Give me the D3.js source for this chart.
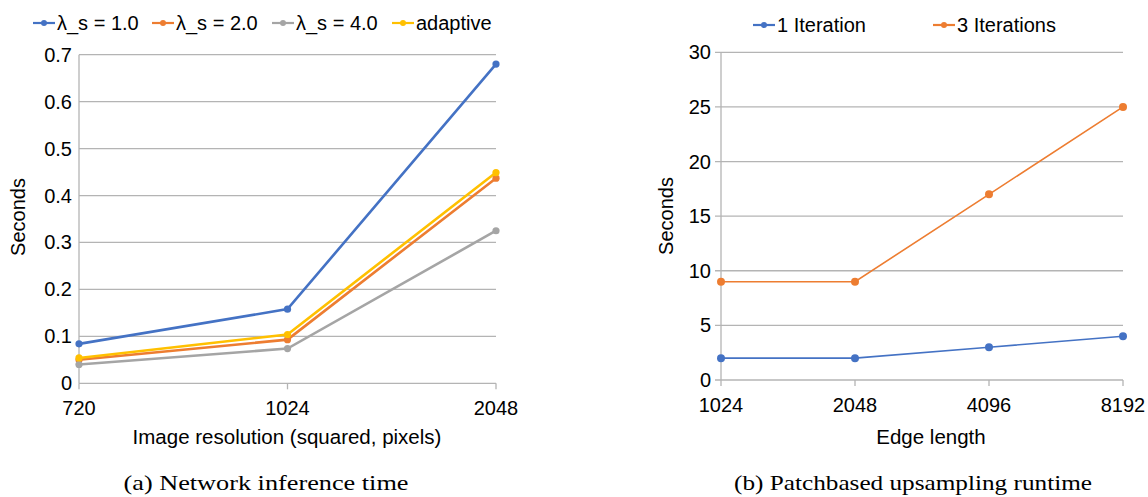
<!DOCTYPE html>
<html>
<head>
<meta charset="utf-8">
<script src="https://cdn.jsdelivr.net/npm/d3@7"></script>
<style>
  body { margin: 0; background: #fff; }
  svg { display: block; }
  .tick-label, .legend-label, .axis-title { font-family: "Liberation Sans", Arial, sans-serif; fill: #000; }
  .caption { font-family: "Liberation Serif", "DejaVu Serif", serif; fill: #000; }
</style>
</head>
<body>
<div class="chart"></div>
<script>
// --- data: (a) network inference time ---
const resolutions = ["720", "1024", "2048"];
const lambda1 = [0.084, 0.158, 0.680];
const lambda2 = [0.050, 0.093, 0.437];
const lambda4 = [0.040, 0.074, 0.325];
const adaptive = [0.054, 0.104, 0.449];
const secondsTicksA = [0, 0.1, 0.2, 0.3, 0.4, 0.5, 0.6, 0.7];

// --- data: (b) patchbased upsampling runtime ---
const edgeLengths = ["1024", "2048", "4096", "8192"];
const iter1 = [2, 2, 3, 4];
const iter3 = [9, 9, 17, 25];
const secondsTicksB = [0, 5, 10, 15, 20, 25, 30];

const seriesA = [
  { name: "λ_s = 1.0", values: lambda1, color: "#4472C4" },
  { name: "λ_s = 2.0", values: lambda2, color: "#ED7D31" },
  { name: "λ_s = 4.0", values: lambda4, color: "#A5A5A5" },
  { name: "adaptive", values: adaptive, color: "#FFC000" }
];
const seriesB = [
  { name: "1 Iteration", values: iter1, color: "#4472C4" },
  { name: "3 Iterations", values: iter3, color: "#ED7D31" }
];

const svg = d3.select(".chart").append("svg")
  .attr("width", 1148)
  .attr("height", 497);

const gridColor = "#B4B4B4";

function drawPanel(opts) {
  const x = d3.scalePoint().domain(opts.categories).range([opts.left, opts.right]);
  const y = d3.scaleLinear().domain([0, d3.max(opts.yTicks)]).range([opts.bottom, opts.top]);
  const g = svg.append("g");

  // gridlines
  g.selectAll(".grid").data(opts.yTicks).join("line")
    .attr("x1", opts.left - opts.yTickLen).attr("x2", opts.right)
    .attr("y1", d => y(d)).attr("y2", d => y(d))
    .attr("stroke", gridColor).attr("stroke-width", 1.3);

  // axes
  g.append("line")
    .attr("x1", opts.left).attr("x2", opts.left)
    .attr("y1", opts.top).attr("y2", opts.bottom)
    .attr("stroke", gridColor).attr("stroke-width", 1.3);
  g.selectAll(".xtick").data(opts.categories).join("line")
    .attr("x1", d => x(d)).attr("x2", d => x(d))
    .attr("y1", opts.bottom).attr("y2", opts.bottom + 6)
    .attr("stroke", gridColor).attr("stroke-width", 1.3);

  g.selectAll(".ylab").data(opts.yTicks).join("text")
    .attr("class", "tick-label")
    .attr("x", opts.left - opts.yLabelGap)
    .attr("y", d => y(d))
    .attr("dy", "0.35em")
    .attr("text-anchor", "end")
    .style("font-size", "20px")
    .text(d => d);

  g.selectAll(".xlab").data(opts.categories).join("text")
    .attr("class", "tick-label")
    .attr("x", d => x(d))
    .attr("y", opts.bottom + 25)
    .attr("dy", "0.35em")
    .attr("text-anchor", "middle")
    .style("font-size", "20px")
    .text(d => d);

  // axis titles
  g.append("text")
    .attr("class", "axis-title")
    .attr("x", opts.xTitleX)
    .attr("y", 437)
    .attr("dy", "0.35em")
    .attr("text-anchor", "middle")
    .style("font-size", "20.5px")
    .text(opts.xTitle);
  g.append("text")
    .attr("class", "axis-title")
    .attr("transform", `translate(${opts.yTitleX},${opts.yTitleY}) rotate(-90)`)
    .attr("dy", "0.35em")
    .attr("text-anchor", "middle")
    .style("font-size", "20px")
    .text("Seconds");

  // lines and points
  const line = d3.line().x((d, i) => x(opts.categories[i])).y(d => y(d));
  opts.series.forEach(s => {
    g.append("path")
      .datum(s.values)
      .attr("d", line)
      .attr("fill", "none")
      .attr("stroke", s.color)
      .attr("stroke-width", opts.lineWidth);
    g.selectAll(null).data(s.values).join("circle")
      .attr("cx", (d, i) => x(opts.categories[i]))
      .attr("cy", d => y(d))
      .attr("r", opts.radius)
      .attr("fill", s.color);
  });

  // legend
  const lg = g.append("g");
  opts.series.forEach((s, i) => {
    const lx = opts.legendX[i];
    lg.append("line")
      .attr("x1", lx).attr("x2", lx + 22)
      .attr("y1", opts.legendY).attr("y2", opts.legendY)
      .attr("stroke", s.color).attr("stroke-width", 2.2);
    lg.append("circle")
      .attr("cx", lx + 11).attr("cy", opts.legendY).attr("r", 3)
      .attr("fill", s.color);
    lg.append("text")
      .attr("class", "legend-label")
      .attr("x", lx + 24)
      .attr("y", opts.legendY)
      .attr("dy", "0.35em")
      .style("font-size", "20px")
      .text(s.name);
  });

  // caption (serif, stretched to the width of the original)
  svg.append("text")
    .attr("class", "caption")
    .attr("x", opts.captionX)
    .attr("y", 482)
    .attr("dy", "0.35em")
    .attr("text-anchor", "middle")
    .attr("textLength", opts.captionWidth)
    .attr("lengthAdjust", "spacingAndGlyphs")
    .style("font-size", "22px")
    .text(opts.caption);
}

drawPanel({
  categories: resolutions, series: seriesA, yTicks: secondsTicksA,
  left: 79, right: 496, top: 54.7, bottom: 383.3,
  yTickLen: 0, yLabelGap: 7, lineWidth: 2.6, radius: 3.6,
  xTitle: "Image resolution (squared, pixels)", xTitleX: 287,
  yTitleX: 18, yTitleY: 217,
  legendX: [33, 152, 272, 392], legendY: 23,
  captionX: 266, captionWidth: 285, caption: "(a) Network inference time"
});

drawPanel({
  categories: edgeLengths, series: seriesB, yTicks: secondsTicksB,
  left: 721, right: 1123, top: 52.3, bottom: 380,
  yTickLen: 6, yLabelGap: 10, lineWidth: 1.6, radius: 4,
  xTitle: "Edge length", xTitleX: 931,
  yTitleX: 666, yTitleY: 216,
  legendX: [753, 933], legendY: 25,
  captionX: 913, captionWidth: 358, caption: "(b) Patchbased upsampling runtime"
});
</script>
</body>
</html>
